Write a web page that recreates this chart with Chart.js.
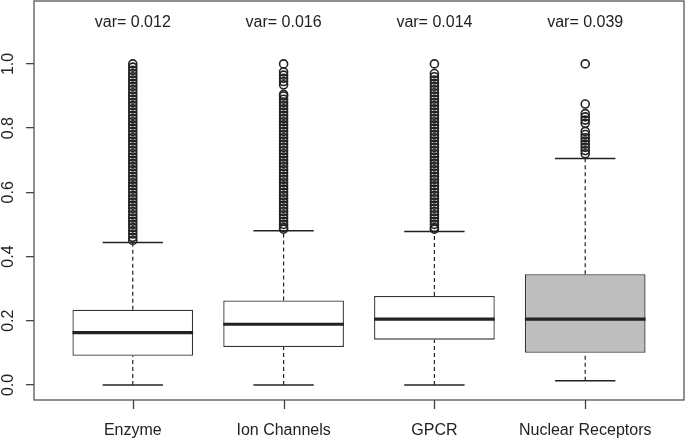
<!DOCTYPE html>
<html>
<head>
<meta charset="utf-8">
<script src="https://cdn.jsdelivr.net/npm/chart.js@4.4.1/dist/chart.umd.min.js"></script>
<style>
html, body { margin: 0; padding: 0; background: #fff; }
#wrap { width: 685px; height: 439px; }
</style>
</head>
<body>
<div id="wrap"><canvas id="myChart"></canvas></div>
<script>
// box plot stats
var categories = ['Enzyme', 'Ion Channels', 'GPCR', 'Nuclear Receptors'];
var varLabels = ['var= 0.012', 'var= 0.016', 'var= 0.014', 'var= 0.039'];
var lowerWhisker = [0.0, 0.0, 0.0, 0.013];
var q1 = [0.091, 0.118, 0.141, 0.100];
var median = [0.163, 0.189, 0.205, 0.205];
var q3 = [0.234, 0.263, 0.277, 0.345];
var upperWhisker = [0.444, 0.480, 0.478, 0.705];
var boxColors = ['#ffffff', '#ffffff', '#ffffff', '#bebebe'];
var yTicks = [0.0, 0.2, 0.4, 0.6, 0.8, 1.0];

// outliers (dense columns)
var enzymeOutliers = [0.45, 0.46, 0.47, 0.48, 0.49, 0.50, 0.51, 0.52, 0.53, 0.54, 0.55, 0.56, 0.57, 0.58, 0.59,
    0.60, 0.61, 0.62, 0.63, 0.64, 0.65, 0.66, 0.67, 0.68, 0.69, 0.70, 0.71, 0.72, 0.73, 0.74, 0.75, 0.76, 0.77,
    0.78, 0.79, 0.80, 0.81, 0.82, 0.83, 0.84, 0.85, 0.86, 0.87, 0.88, 0.89, 0.90, 0.91, 0.92, 0.93, 0.94, 0.95,
    0.96, 0.97, 0.98, 0.99, 1.00];
var ionOutliers = [0.485, 0.49, 0.50, 0.51, 0.52, 0.53, 0.54, 0.55, 0.56, 0.57, 0.58, 0.59, 0.60, 0.61, 0.62,
    0.63, 0.64, 0.65, 0.66, 0.67, 0.68, 0.69, 0.70, 0.71, 0.72, 0.73, 0.74, 0.75, 0.76, 0.77, 0.78, 0.79, 0.80,
    0.81, 0.82, 0.83, 0.84, 0.85, 0.86, 0.87, 0.88, 0.89, 0.90, 0.905, 0.935, 0.945, 0.955, 0.965, 0.975, 1.00];
var gpcrOutliers = [0.485, 0.49, 0.50, 0.51, 0.52, 0.53, 0.54, 0.55, 0.56, 0.57, 0.58, 0.59, 0.60, 0.61, 0.62,
    0.63, 0.64, 0.65, 0.66, 0.67, 0.68, 0.69, 0.70, 0.71, 0.72, 0.73, 0.74, 0.75, 0.76, 0.77, 0.78, 0.79, 0.80,
    0.81, 0.82, 0.83, 0.84, 0.85, 0.86, 0.87, 0.88, 0.89, 0.90, 0.91, 0.92, 0.93, 0.94, 0.95, 0.96, 0.97, 1.00];
var nrOutliers = [0.72, 0.73, 0.74, 0.75, 0.76, 0.77, 0.78, 0.79, 0.815, 0.825, 0.835, 0.845, 0.875, 1.00];
var outliers = [enzymeOutliers, ionOutliers, gpcrOutliers, nrOutliers];

var ink = '#222';

function seg(x1, y1, x2, y2, width, dash) {
    return {
        type: 'line',
        data: [{x: x1, y: y1}, {x: x2, y: y2}],
        borderColor: ink,
        borderWidth: width,
        borderDash: dash || [],
        pointRadius: 0,
        fill: false,
        order: 0
    };
}

var datasets = [{
    type: 'bar',
    data: categories.map(function (c, i) { return {x: i + 1, y: [q1[i], q3[i]]}; }),
    backgroundColor: boxColors,
    borderColor: '#333',
    borderWidth: 1.3,
    borderSkipped: false,
    barPercentage: 0.8,
    categoryPercentage: 1.0,
    order: 2
}];

categories.forEach(function (c, i) {
    var x = i + 1;
    datasets.push(seg(x, q3[i], x, upperWhisker[i], 1.2, [4, 3]));
    datasets.push(seg(x, lowerWhisker[i], x, q1[i], 1.2, [4, 3]));
    datasets.push(seg(x - 0.2, upperWhisker[i], x + 0.2, upperWhisker[i], 1.5));
    datasets.push(seg(x - 0.2, lowerWhisker[i], x + 0.2, lowerWhisker[i], 1.5));
    datasets.push(seg(x - 0.4, median[i], x + 0.4, median[i], 3.2));
    datasets.push({
        type: 'scatter',
        data: outliers[i].map(function (v) { return {x: x, y: v}; }),
        showLine: false,
        pointStyle: 'circle',
        pointRadius: 4,
        pointBorderWidth: 1.6,
        pointBorderColor: ink,
        pointBackgroundColor: 'rgba(0,0,0,0)',
        order: 1
    });
});

var framePlugin = {
    id: 'frame',
    afterDraw: function (chart) {
        var ctx = chart.ctx, a = chart.chartArea;
        var ys = chart.scales.y, xs = chart.scales.x;
        ctx.save();
        ctx.strokeStyle = '#555';
        ctx.lineWidth = 1.3;
        ctx.strokeRect(a.left, a.top, a.right - a.left, a.bottom - a.top);
        // x tick marks under each box
        ctx.strokeStyle = '#444';
        xs.ticks.forEach(function (tk) {
            var px = Math.round(xs.getPixelForValue(tk.value)) + 0.5;
            ctx.beginPath();
            ctx.moveTo(px, a.bottom);
            ctx.lineTo(px, a.bottom + 9);
            ctx.stroke();
        });
        // var= labels above each box
        ctx.fillStyle = ink;
        ctx.font = '16px "Liberation Sans", Arial, sans-serif';
        ctx.textAlign = 'center';
        ctx.textBaseline = 'middle';
        varLabels.forEach(function (t, i) {
            ctx.fillText(t, xs.getPixelForValue(i + 1), ys.getPixelForValue(1.13));
        });
        // rotated y tick labels like R
        ys.ticks.forEach(function (tk) {
            var py = ys.getPixelForValue(tk.value);
            ctx.save();
            ctx.translate(9, py);
            ctx.rotate(-Math.PI / 2);
            ctx.fillText(tk.value.toFixed(1), 0, 0);
            ctx.restore();
        });
        ctx.restore();
    }
};

var ctx = document.getElementById('myChart').getContext('2d');
var myChart = new Chart(ctx, {
    type: 'bar',
    data: {datasets: datasets},
    options: {
        responsive: true,
        maintainAspectRatio: false,
        animation: false,
        layout: {autoPadding: false, padding: {top: 1, right: 1, left: 0, bottom: 0}},
        plugins: {legend: {display: false}, tooltip: {enabled: false}},
        scales: {
            x: {
                type: 'linear',
                min: 0.345,
                max: 4.655,
                offset: false,
                afterBuildTicks: function (s) { s.ticks = categories.map(function (c, i) { return {value: i + 1}; }); },
                afterFit: function (s) { s.height = 39; },
                grid: {display: false},
                border: {display: false},
                ticks: {
                    color: ink,
                    padding: 13,
                    font: {family: '"Liberation Sans", Arial, sans-serif', size: 16},
                    maxRotation: 0,
                    autoSkip: false,
                    callback: function (v) { return categories[v - 1]; }
                }
            },
            y: {
                min: -0.047,
                max: 1.196,
                afterBuildTicks: function (s) { s.ticks = yTicks.map(function (v) { return {value: v}; }); },
                afterFit: function (s) { s.width = 34; },
                grid: {drawOnChartArea: false, drawTicks: true, tickLength: 8, color: '#444', lineWidth: 1.3},
                border: {display: false},
                ticks: {display: false}
            }
        }
    },
    plugins: [framePlugin]
});
</script>
</body>
</html>
